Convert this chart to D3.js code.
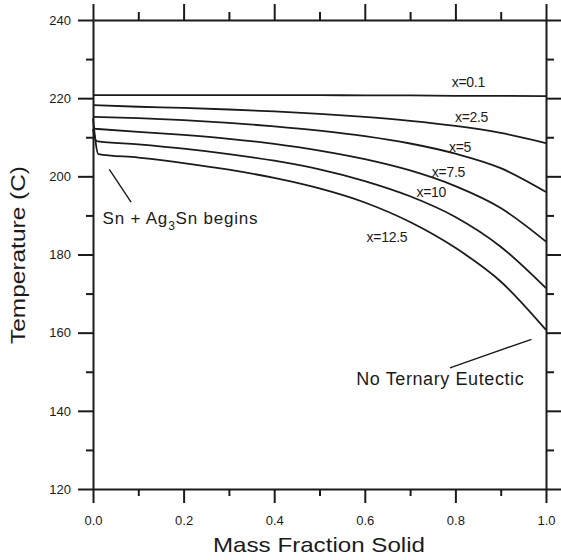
<!DOCTYPE html>
<html>
<head>
<meta charset="utf-8">
<script src="https://cdn.jsdelivr.net/npm/d3@7"></script>
<style>
  body { margin: 0; background: #fff; }
  svg { display: block; font-family: "Liberation Sans", Arial, sans-serif; }
</style>
</head>
<body>
<svg width="561" height="560"></svg>
<script>
// mass fraction solid grids (the x=10 and x=12.5 runs have an extra early point at the Ag3Sn kink)
const fracSolid = [0, 0.1, 0.2, 0.3, 0.4, 0.5, 0.6, 0.7, 0.8, 0.9, 1.0]
const fracSolidKink10 = [0, 0.008, 0.1, 0.2, 0.3, 0.4, 0.5, 0.6, 0.7, 0.8, 0.9, 1.0]
const fracSolidKink125 = [0, 0.012, 0.1, 0.2, 0.3, 0.4, 0.5, 0.6, 0.7, 0.8, 0.9, 1.0]

// temperatures (C)
const tempX01 = [220.8, 220.8, 220.8, 220.8, 220.8, 220.8, 220.7, 220.7, 220.6, 220.6, 220.5]
const tempX25 = [218.2, 217.8, 217.5, 217.1, 216.6, 216.0, 215.2, 214.2, 212.9, 211.1, 208.5]
const tempX5 = [215.2, 214.9, 214.4, 213.7, 212.8, 211.7, 210.3, 208.4, 205.8, 202.1, 196.0]
const tempX75 = [212.2, 211.4, 210.6, 209.6, 208.3, 206.6, 204.4, 201.5, 197.5, 191.9, 183.3]
const tempX10 = [212.0, 209.0, 208.2, 207.1, 205.7, 204.0, 201.8, 198.8, 194.9, 189.6, 182.0, 171.4]
const tempX125 = [214.8, 205.7, 204.8, 203.4, 201.7, 199.6, 196.9, 193.3, 188.3, 181.7, 173.1, 160.7]

const seriesNames = ['x=0.1', 'x=2.5', 'x=5', 'x=7.5', 'x=10', 'x=12.5']

const xMajor = [0, 0.2, 0.4, 0.6, 0.8, 1.0]
const xMinor = [0.1, 0.3, 0.5, 0.7, 0.9]
const yMajor = [120, 140, 160, 180, 200, 220, 240]
const yMinor = [130, 150, 170, 190, 210, 230]

const ink = '#1b1b1b'
const svg = d3.select('svg')

const x = d3.scaleLinear().domain([0, 1]).range([93, 546])
const y = d3.scaleLinear().domain([120, 240]).range([489, 20])

const series = [
  { name: seriesNames[0], fs: fracSolid, t: tempX01 },
  { name: seriesNames[1], fs: fracSolid, t: tempX25 },
  { name: seriesNames[2], fs: fracSolid, t: tempX5 },
  { name: seriesNames[3], fs: fracSolid, t: tempX75 },
  { name: seriesNames[4], fs: fracSolidKink10, t: tempX10 },
  { name: seriesNames[5], fs: fracSolidKink125, t: tempX125 }
]

function drawAxis(axis, tx, ty, labels) {
  const g = svg.append('g').attr('transform', `translate(${tx},${ty})`).call(axis)
  g.selectAll('path.domain').attr('stroke', ink).attr('stroke-width', 2)
  g.selectAll('.tick line').attr('stroke', ink).attr('stroke-width', 2)
  g.selectAll('.tick text').attr('fill', ink).style('font-size', '13px')
  if (!labels) g.selectAll('.tick text').remove()
  return g
}

// bottom
drawAxis(d3.axisBottom(x).tickValues(xMajor).tickSize(14).tickPadding(13)
  .tickSizeOuter(0).tickFormat(d3.format('.1f')), 0, 489, true)
drawAxis(d3.axisBottom(x).tickValues(xMinor).tickSize(7).tickSizeOuter(0), 0, 489, false)
  .select('.domain').remove()
// top
drawAxis(d3.axisTop(x).tickValues(xMajor).tickSize(16).tickSizeOuter(0), 0, 20, false)
drawAxis(d3.axisTop(x).tickValues(xMinor).tickSize(8).tickSizeOuter(0), 0, 20, false)
  .select('.domain').remove()
// left
drawAxis(d3.axisLeft(y).tickValues(yMajor).tickSize(15).tickPadding(7).tickSizeOuter(0), 93, 0, true)
drawAxis(d3.axisLeft(y).tickValues(yMinor).tickSize(7).tickSizeOuter(0), 93, 0, false)
  .select('.domain').remove()
// right
drawAxis(d3.axisRight(y).tickValues(yMajor).tickSize(15).tickSizeOuter(0), 546, 0, false)
drawAxis(d3.axisRight(y).tickValues(yMinor).tickSize(8).tickSizeOuter(0), 546, 0, false)
  .select('.domain').remove()

const line = d3.line()
  .x(d => x(d[0]))
  .y(d => y(d[1]))
  .curve(d3.curveMonotoneX)

svg.append('g')
  .selectAll('path')
  .data(series)
  .enter()
  .append('path')
  .attr('fill', 'none')
  .attr('stroke', ink)
  .attr('stroke-width', 1.8)
  .attr('d', s => line(s.fs.map((f, i) => [f, s.t[i]])))

// curve labels, anchored in data units
const labelAt = [[0.792, 222.9], [0.799, 214.0], [0.786, 206.3], [0.748, 199.9], [0.714, 194.8], [0.604, 183.3]]
svg.append('g')
  .selectAll('text')
  .data(seriesNames)
  .enter()
  .append('text')
  .attr('x', (d, i) => x(labelAt[i][0]))
  .attr('y', (d, i) => y(labelAt[i][1]))
  .attr('fill', ink)
  .style('font-size', '14px')
  .style('letter-spacing', '-0.3px')
  .text(d => d)

// annotations
svg.append('line')
  .attr('x1', x(0.036)).attr('y1', y(201.8))
  .attr('x2', x(0.084)).attr('y2', y(193.4))
  .attr('stroke', ink).attr('stroke-width', 1.4)

const sn = svg.append('text')
  .attr('x', x(0.021)).attr('y', y(187.8))
  .attr('fill', ink)
  .style('font-size', '17px')
  .style('letter-spacing', '0.8px')
sn.append('tspan').text('Sn + Ag')
sn.append('tspan').attr('dy', 6).style('font-size', '12px').text('3')
sn.append('tspan').attr('dy', -6).text('Sn begins')

svg.append('line')
  .attr('x1', x(0.788)).attr('y1', y(151.0))
  .attr('x2', x(0.968)).attr('y2', y(158.3))
  .attr('stroke', ink).attr('stroke-width', 1.4)

svg.append('text')
  .attr('x', x(0.581)).attr('y', y(146.6))
  .attr('fill', ink)
  .style('font-size', '18px')
  .style('letter-spacing', '0.6px')
  .text('No Ternary Eutectic')

// axis titles
svg.append('text')
  .attr('x', 319).attr('y', 552)
  .attr('text-anchor', 'middle')
  .attr('fill', ink)
  .attr('textLength', 212)
  .attr('lengthAdjust', 'spacingAndGlyphs')
  .style('font-size', '21px')
  .text('Mass Fraction Solid')

svg.append('text')
  .attr('transform', 'translate(25,255) rotate(-90)')
  .attr('text-anchor', 'middle')
  .attr('fill', ink)
  .attr('textLength', 178)
  .attr('lengthAdjust', 'spacingAndGlyphs')
  .style('font-size', '21px')
  .text('Temperature (C)')
</script>
</body>
</html>
